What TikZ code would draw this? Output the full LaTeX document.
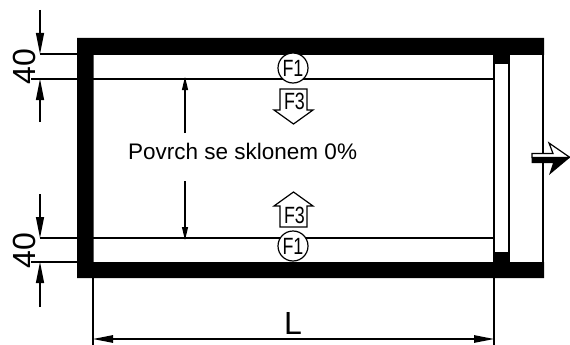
\documentclass[tikz,border=0pt]{standalone}
\usepackage{fontspec}
\setmainfont{Liberation Sans}
\usetikzlibrary{arrows.meta}
\tikzset{
  thin line/.style={draw=black,line width=1.2pt},
  dim/.style={draw=black,line width=1.2pt,-{Triangle[length=21pt,width=8pt]}},
  dimboth/.style={draw=black,line width=1.2pt,{Triangle[length=20pt,width=7.5pt]}-{Triangle[length=20pt,width=7.5pt]}},
  inner arrow/.style={draw=black,line width=1.2pt,-{Triangle[length=13pt,width=6pt]}},
  solid black/.style={fill=black,draw=none},
  tag/.style={circle,draw=black,fill=white,line width=1.2pt,minimum size=30pt,inner sep=0pt,font=\fontsize{23.5}{23.5}\selectfont},
  load/.style={draw=black,fill=white,line width=1.2pt},
  loadtext/.style={font=\fontsize{23.5}{23.5}\selectfont,inner sep=0pt},
  dimtext/.style={font=\fontsize{32}{32}\selectfont,inner sep=0pt}
}
\newcommand{\narrowtxt}[1]{\scalebox{0.76}[1]{#1}}
\begin{document}
\begin{tikzpicture}[x=1pt,y=-1pt]
\useasboundingbox (0,0) rectangle (570,345);
% frame
\draw[thin line] (543,54) -- (543,262);
\draw[thin line] (494,54) -- (494,262);
\draw[thin line] (509,54) -- (509,262);
\fill[solid black] (77,38) -- (544,38) -- (544,55) -- (509.5,55) -- (509.5,64) -- (493.5,64) -- (493.5,55) -- (93.5,55) -- (93.5,262) -- (493.5,262) -- (493.5,252) -- (509.5,252) -- (509.5,262) -- (544,262) -- (544,278) -- (77,278) -- cycle;
% thin lines
\coordinate (tl) at (93,79); \coordinate (tr) at (494,79);
\coordinate (bl) at (93,238); \coordinate (br) at (494,238);
\draw[thin line] (tl) -- (tr);
\draw[thin line] (bl) -- (br);
% left dims upper
\coordinate (u1) at (40,54); \coordinate (u2) at (31,79);
\draw[thin line] (u1) -- (77,54);
\draw[thin line] (u2) -- (77,79);
\coordinate (a1) at (40,10); \coordinate (a2) at (40,54);
\coordinate (a3) at (40,122); \coordinate (a4) at (40,79);
\draw[dim] (a1) -- (a2);
\draw[dim] (a3) -- (a4);
\node[dimtext,rotate=90] (d40a) at (24.5,66.5) {40};
% left dims lower
\draw[thin line] (40,238) -- (77,238);
\draw[thin line] (31,262) -- (77,262);
\coordinate (b1) at (40,194); \coordinate (b2) at (40,238);
\coordinate (b3) at (40,307); \coordinate (b4) at (40,262);
\draw[dim] (b1) -- (b2);
\draw[dim] (b3) -- (b4);
\node[dimtext,rotate=90] (d40b) at (24.5,250.5) {40};
% bottom dim
\coordinate (e1) at (93,278); \coordinate (e2) at (93,345);
\coordinate (e3) at (494,278); \coordinate (e4) at (494,345);
\draw[thin line] (e1) -- (e2);
\draw[thin line] (e3) -- (e4);
\coordinate (l1) at (93,339); \coordinate (l2) at (494,339);
\draw[dimboth] (l1) -- (l2);
\node[dimtext,anchor=base] (L) at (293,334) {L};
% centre arrows and text
\coordinate (c1) at (185,133); \coordinate (c2) at (185,77);
\coordinate (c3) at (185,181); \coordinate (c4) at (185,240);
\draw[inner arrow] (c1) -- (c2);
\draw[inner arrow] (c3) -- (c4);
\node[font=\fontsize{22.5}{22.5}\selectfont,inner sep=0pt,anchor=base west] (txt) at (128,159) {Povrch se sklonem 0\%};
% F1 tags
\node[tag] (f1a) at (293,68) {\narrowtxt{F1}};
\node[tag] (f1b) at (293,246) {\narrowtxt{F1}};
% F3 loads
\draw[load] (280,89) -- (307,89) -- (307,110) -- (313,110) -- (293.5,124) -- (274,110) -- (280,110) -- cycle;
\node[loadtext] (f3a) at (294.5,101) {\narrowtxt{F3}};
\draw[load] (280,227) -- (307,227) -- (307,206) -- (313,206) -- (293.5,192) -- (274,206) -- (280,206) -- cycle;
\node[loadtext] (f3b) at (294.5,215.5) {\narrowtxt{F3}};
% exit arrow
\draw[load] (532,153.5) -- (553,153.5) -- (549,143) -- (570,157.5) -- (532,157.5) -- cycle;
\fill[solid black] (531.5,157.5) -- (570,157.5) -- (549,175) -- (553,163) -- (531.5,163) -- cycle;
\end{tikzpicture}
\end{document}
